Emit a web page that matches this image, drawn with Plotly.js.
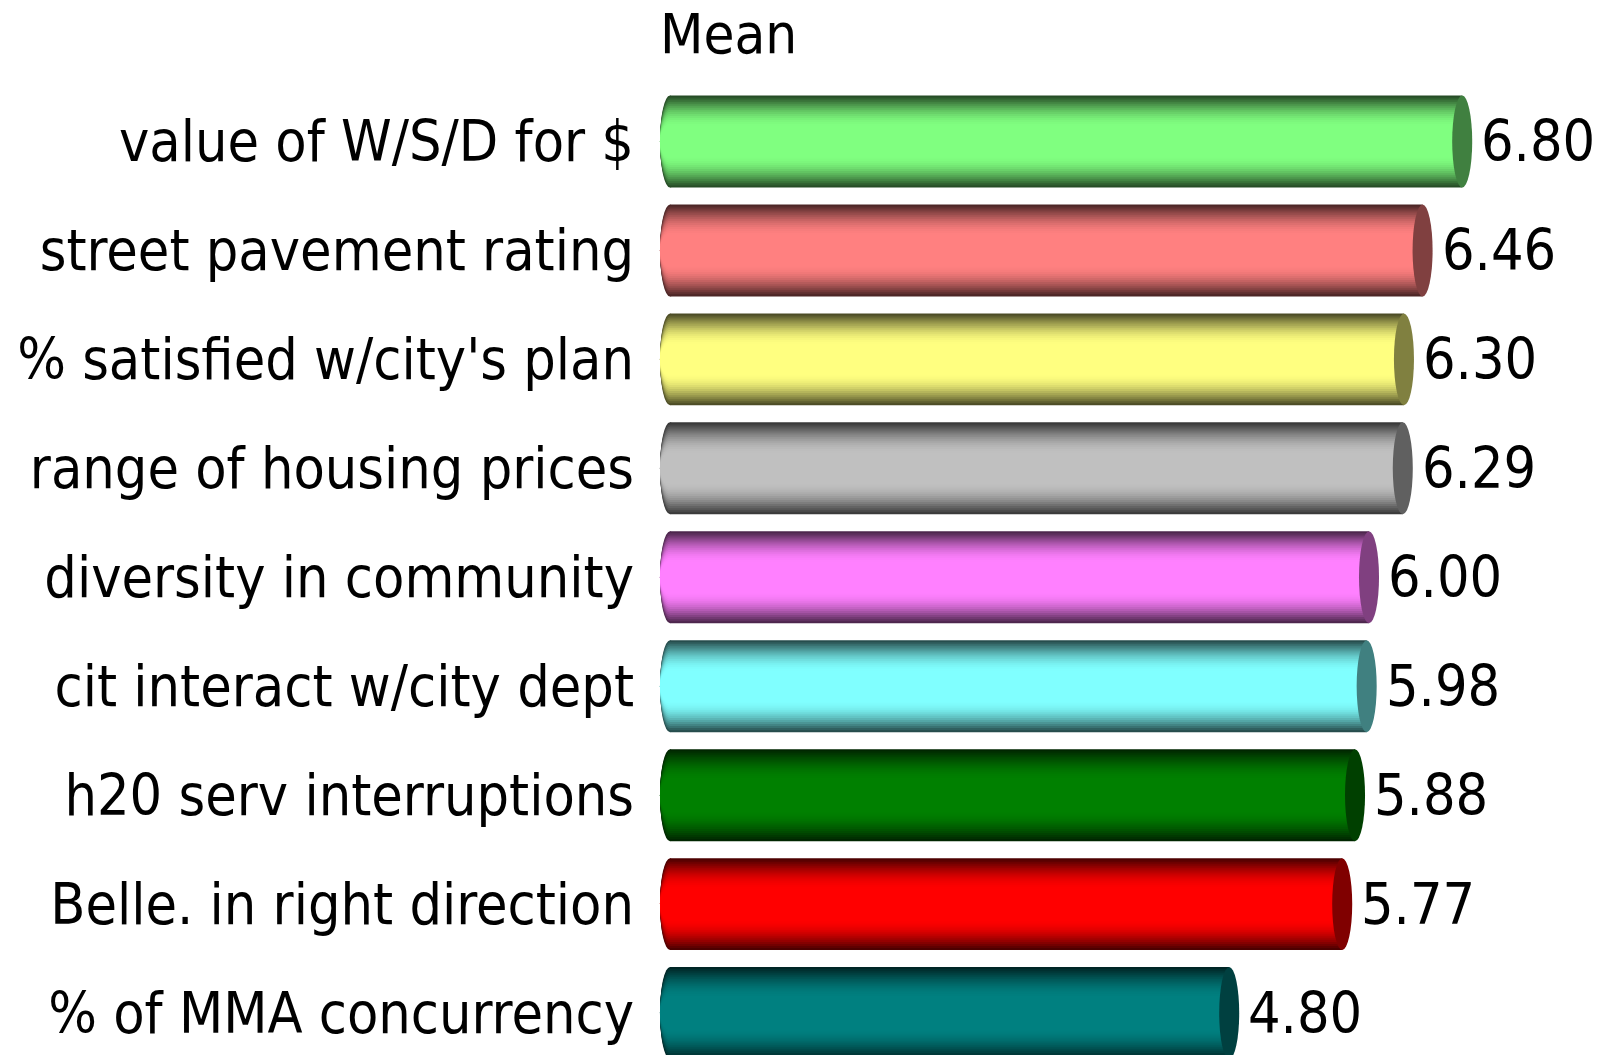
<!DOCTYPE html>
<html>
<head>
<meta charset="utf-8">
<script src="https://cdn.plot.ly/plotly-3.0.1.min.js"></script>
<style>html,body{margin:0;padding:0;background:#fff;}#chart{width:1606px;height:1055px;}</style>
</head>
<body>
<div id="chart"></div>
<script>
const categories = [
  "value of W/S/D for $",
  "street pavement rating",
  "% satisfied w/city's plan",
  "range of housing prices",
  "diversity in community",
  "cit interact w/city dept",
  "h20 serv interruptions",
  "Belle. in right direction",
  "% of MMA concurrency"
];
const means = [6.80, 6.46, 6.30, 6.29, 6.00, 5.98, 5.88, 5.77, 4.80];
const barColors = ["#80FF80","#FF8080","#FFFF80","#C0C0C0","#FF80FF","#80FFFF","#008000","#FF0000","#008080"];
const seriesTitle = "Mean";

const FONT = "DejaVu Sans Condensed, DejaVu Sans, sans-serif";
const W = 0.844;          // bar thickness in category units
const CAP = 0.086;        // cap half-width in x units
const N = 16;             // shading layers

function hexToRgb(h){ h=h.replace('#',''); return [parseInt(h.substr(0,2),16),parseInt(h.substr(2,2),16),parseInt(h.substr(4,2),16)]; }
function shade(h,f){ const c=hexToRgb(h); return 'rgb('+c.map(v=>Math.round(v*f)).join(',')+')'; }

const idx = categories.map((_,i)=>i);
const traces = [];
const layers = [];
for (let k=0;k<N;k++){
  const t = k/(N-1);
  const width = W*(1-(2/3)*t);
  const f = 0.3 + 0.7*Math.sin(t*Math.PI/2);
  layers.push({width, f});
  traces.push({
    type:'bar', orientation:'h',
    x: means, y: idx,
    width: width,
    marker:{color: barColors.map(c=>shade(c,f)), line:{width:0}},
    hoverinfo:'skip', showlegend:false
  });
}

const shapes = [];
// left rounded ends (nested ellipses drawn below the bars)
means.forEach((v,i)=>{
  layers.forEach(L=>{
    shapes.push({
      type:'circle', xref:'x', yref:'y', layer:'below',
      x0:-CAP, x1:CAP, y0:i-L.width/2, y1:i+L.width/2,
      fillcolor: shade(barColors[i], L.f), line:{width:0}
    });
  });
});
// right end caps
means.forEach((v,i)=>{
  shapes.push({
    type:'circle', xref:'x', yref:'y', layer:'above',
    x0: v-CAP, x1: v+CAP, y0: i-W/2, y1: i+W/2,
    fillcolor: shade(barColors[i],0.5), line:{width:0}
  });
});

const annotations = means.map((v,i)=>({
  x: v, y: i, xref:'x', yref:'y', xanchor:'left', yanchor:'middle',
  xshift: 17, text: v.toFixed(2), showarrow:false,
  font:{family:FONT, size:57, color:'#000'}
}));
annotations.push({
  x:0, y:1, xref:'paper', yref:'paper', xanchor:'left', yanchor:'bottom',
  xshift:0, yshift:19, text: seriesTitle, showarrow:false,
  font:{family:FONT, size:56, color:'#000'}
});

const layout = {
  width:1606, height:1055,
  margin:{l:658, r:4, t:87, b:0, pad:0},
  paper_bgcolor:'#fff', plot_bgcolor:'#fff',
  barmode:'overlay',
  showlegend:false,
  xaxis:{range:[-0.103,8], showgrid:false, zeroline:false, showticklabels:false, showline:false, ticks:''},
  yaxis:{range:[8.385,-0.5], tickmode:'array', tickvals:idx, ticktext:categories,
         showgrid:false, zeroline:false, showline:false, ticks:'',
         ticklabelstandoff:23,
         tickfont:{family:FONT, size:57, color:'#000'}},
  shapes: shapes,
  annotations: annotations
};

Plotly.newPlot('chart', traces, layout, {displayModeBar:false, staticPlot:true});
</script>
</body>
</html>
